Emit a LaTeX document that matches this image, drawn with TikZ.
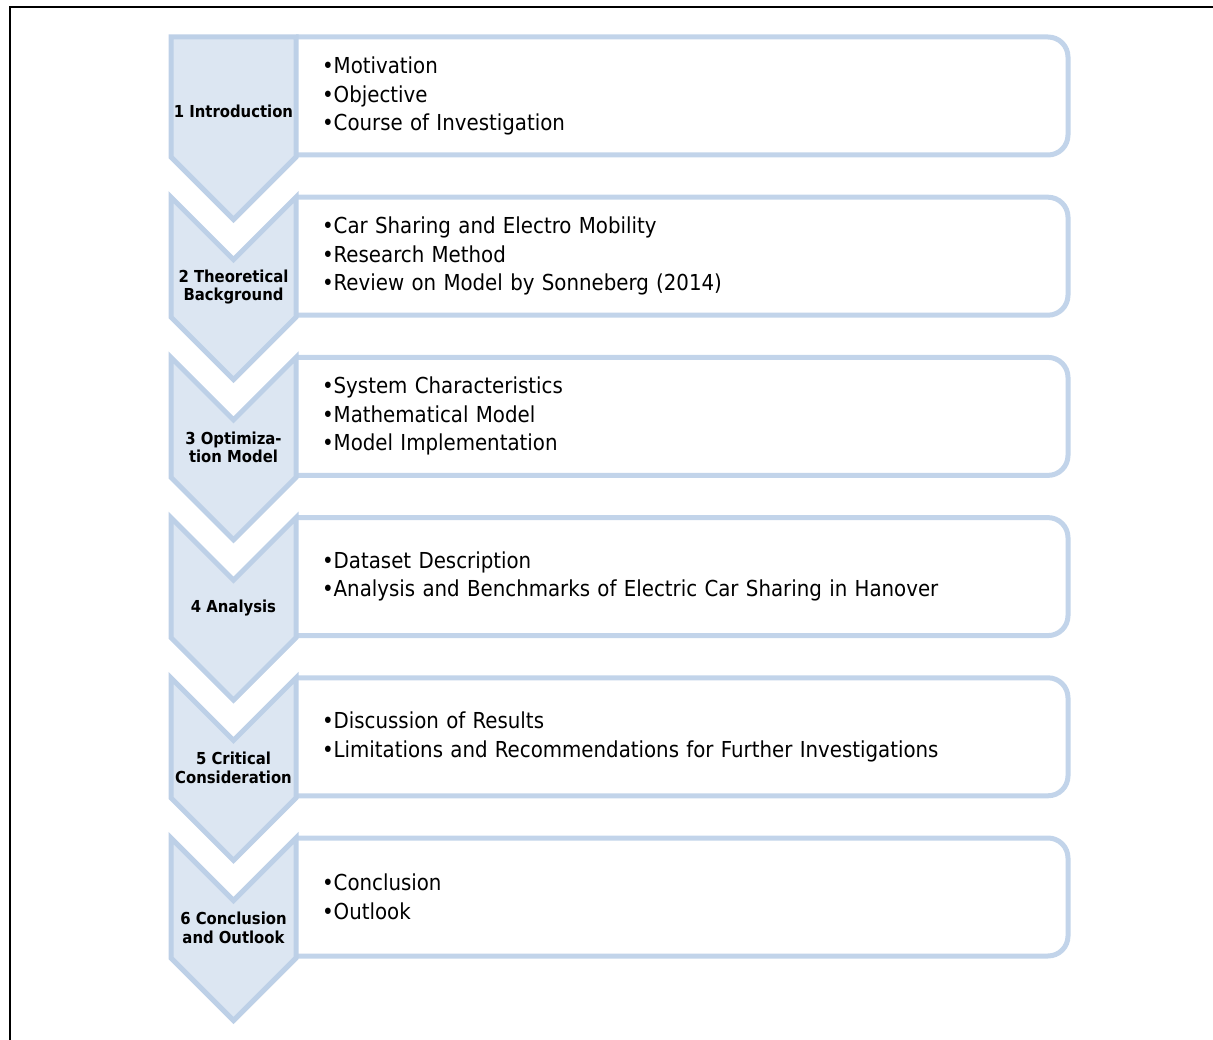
\documentclass[tikz,border=0pt]{standalone}
\usepackage{fontspec}
\setmainfont{DejaVu Sans Condensed}
\usetikzlibrary{positioning,shadows}

\begin{document}
\begin{tikzpicture}[x=1pt,y=-1pt,
  mybox/.style={anchor=north west,fill=white,minimum height=118pt,text width=720pt,
    inner xsep=26pt,inner ysep=0pt,outer sep=0pt,align=left,
    font=\fontsize{22}{28.5}\selectfont},
  myrim/.style={draw=boxline,line width=5pt,rounded corners=20pt},
  mychev/.style={draw=chevline,fill=chevfill,line width=5pt,
    drop shadow={opacity=0.18,shadow xshift=1.5pt,shadow yshift=-2pt}},
  mylabel/.style={align=center,inner sep=0pt,font=\bfseries\fontsize{16.5}{18.5}\selectfont}]
\definecolor{chevfill}{HTML}{DCE6F2}
\definecolor{chevline}{HTML}{BDD0E7}
\definecolor{boxline}{HTML}{C2D4EA}
\useasboundingbox (0,0) rectangle (1213,1040);
% frame
\draw[line width=2.5pt] (10,1040) -- (10,7) -- (1213,7);
  \foreach \n/\lbl/\items in {
    1/{1 Introduction}/{•Motivation\\•Objective\\•Course of Investigation},
    2/{2 Theoretical\\Background}/{•Car Sharing and Electro Mobility\\•Research Method\\•Review on Model by Sonneberg (2014)},
    3/{3 Optimiza-\\tion Model}/{•System Characteristics\\•Mathematical Model\\•Model Implementation},
    4/{4 Analysis}/{•Dataset Description\\•Analysis and Benchmarks of Electric Car Sharing in Hanover},
    5/{5 Critical\\Consideration}/{•Discussion of Results\\•Limitations and Recommendations for Further Investigations},
    6/{6 Conclusion\\and Outlook}/{•Conclusion\\•Outlook}}
  { \pgfmathsetmacro{\y}{37+160.2*(\n-1)}
    \node [mybox] (box\n) at (296,\y) {\items};
    \draw [myrim] (box\n.north west) -- (box\n.north east) -- (box\n.south east) -- (box\n.south west);
    \ifnum\n=1
      \draw [mychev] (171,\y) -- (296,\y) -- (296,\y+120) -- (233.5,\y+182.5) -- (171,\y+120) -- cycle;
      \node [mylabel] (lbl\n) at (233.5,\y+74) {\lbl};
    \else
      \draw [mychev] (171,\y) -- (233.5,\y+62.5) -- (296,\y) -- (296,\y+120) -- (233.5,\y+182.5) -- (171,\y+120) -- cycle;
      \node [mylabel] (lbl\n) at (233.5,\y+90) {\lbl};
    \fi}
\end{tikzpicture}
\end{document}
